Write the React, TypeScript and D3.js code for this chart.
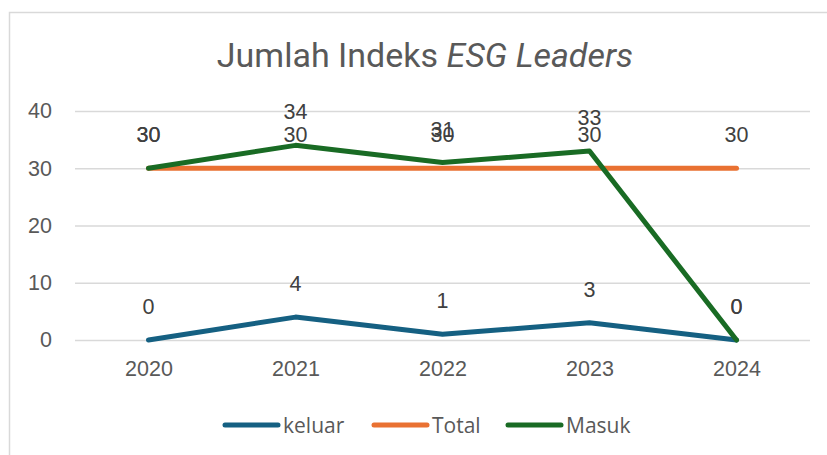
import { useEffect, useRef } from "react";
import * as d3 from "d3";

const years = ["2020", "2021", "2022", "2023", "2024"];
const keluar = [0, 4, 1, 3, 0];
const total = [30, 30, 30, 30, 30];
const masuk = [30, 34, 31, 33, 0];
const yTicks = [0, 10, 20, 30, 40];

const seriesList = [
  { name: "keluar", values: keluar, color: "#156082" },
  { name: "Total", values: total, color: "#E97132" },
  { name: "Masuk", values: masuk, color: "#196B24" },
];

export default function App() {
  const svgRef = useRef<SVGSVGElement | null>(null);

  useEffect(() => {
    if (!svgRef.current) return;
    const svg = d3.select(svgRef.current);
    svg.selectAll("*").remove();

    const width = 827;
    const height = 455;
    const font = "'Liberation Sans', Arial, sans-serif";

    svg.attr("viewBox", `0 0 ${width} ${height}`);

    // chart frame
    svg
      .append("rect")
      .attr("x", 9.5)
      .attr("y", 12.5)
      .attr("width", width + 20)
      .attr("height", height + 20)
      .attr("fill", "#fff")
      .attr("stroke", "#d9d9d9")
      .attr("stroke-width", 1.5);

    const title = svg
      .append("text")
      .attr("x", 425)
      .attr("y", 67)
      .attr("text-anchor", "middle")
      .attr("fill", "#595959")
      .style("font-family", "'Roboto', sans-serif")
      .style("font-size", "34px");
    title.append("tspan").text("Jumlah Indeks ");
    title.append("tspan").attr("font-style", "italic").text("ESG Leaders");

    const x = d3.scalePoint().domain(years).range([75, 810]).padding(0.5);
    const y = d3.scaleLinear().domain([0, 40]).range([340, 111]);

    const grid = svg
      .append("g")
      .call(d3.axisLeft(y).tickValues(yTicks).tickSize(-735).tickPadding(23))
      .attr("transform", "translate(75,0)");
    grid.select(".domain").remove();
    grid.selectAll("line").attr("stroke", "#d9d9d9").attr("stroke-width", 1.3);
    grid
      .selectAll("text")
      .attr("fill", "#595959")
      .style("font-family", font)
      .style("font-size", "21.5px");

    const xAxis = svg
      .append("g")
      .attr("transform", "translate(0,340)")
      .call(d3.axisBottom(x).tickSize(0).tickPadding(21));
    xAxis.select(".domain").remove();
    xAxis
      .selectAll("text")
      .attr("fill", "#595959")
      .style("font-family", font)
      .style("font-size", "21.5px");

    const line = d3
      .line<number>()
      .x((_, i) => x(years[i]) ?? 0)
      .y((d) => y(d));

    seriesList.forEach((s) => {
      svg
        .append("path")
        .datum(s.values)
        .attr("d", line)
        .attr("fill", "none")
        .attr("stroke", s.color)
        .attr("stroke-width", 5)
        .attr("stroke-linejoin", "round")
        .attr("stroke-linecap", "round");
    });

    seriesList.forEach((s) => {
      svg
        .append("g")
        .selectAll("text")
        .data(s.values)
        .join("text")
        .attr("x", (_, i) => x(years[i]) ?? 0)
        .attr("y", (d) => y(d) - 26)
        .attr("text-anchor", "middle")
        .attr("fill", "#404040")
        .style("font-family", font)
        .style("font-size", "21.5px")
        .text((d) => d);
    });

    // legend
    const legendX = [223, 372, 506];
    const legend = svg
      .append("g")
      .selectAll("g")
      .data(seriesList)
      .join("g")
      .attr("transform", (_, i) => `translate(${legendX[i]},425)`);
    legend
      .append("line")
      .attr("x1", 2)
      .attr("x2", 55)
      .attr("stroke", (d) => d.color)
      .attr("stroke-width", 5)
      .attr("stroke-linecap", "round");
    legend
      .append("text")
      .attr("x", 60)
      .attr("y", 7.5)
      .attr("fill", "#595959")
      .style("font-family", "'Open Sans', sans-serif")
      .style("font-size", "21px")
      .text((d) => d.name);
  }, []);

  return (
    <div style={{ position: "absolute", left: 0, top: 0 }}>
      <svg ref={svgRef} width={827} height={455} style={{ display: "block" }} />
    </div>
  );
}
